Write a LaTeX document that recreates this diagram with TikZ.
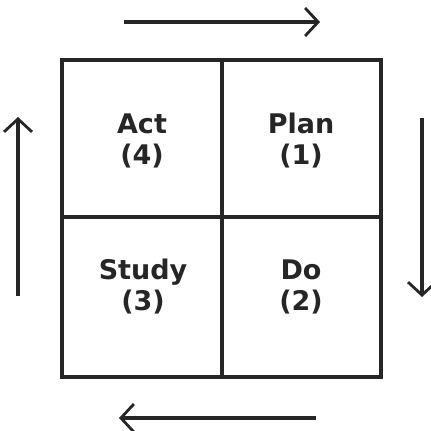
\documentclass[tikz,border=0pt]{standalone}
\usepackage{fontspec}
\setmainfont{DejaVu Sans}
\usetikzlibrary{arrows.meta}
\begin{document}
\begin{tikzpicture}[x=1pt,y=-1pt,
  grid/.style={line width=3.4pt,draw=black!85},
  cyc/.style={line width=3.2pt,draw=black!85,-{Straight Barb[length=13pt,width=28pt,line width=2.8pt]}},
  lbl/.style={font=\fontsize{27}{31}\selectfont\bfseries,align=center,text=black!85,inner sep=0pt}]
\useasboundingbox (0,0) rectangle (431,431);
\fill[white] (0,0) rectangle (431,431);
\draw[grid] (62,60) rectangle (381,377);
\draw[grid] (222,60) -- (222,377);
\draw[grid] (62,217) -- (381,217);
\node[lbl] (act) at (142,141) {Act\\(4)};
\node[lbl] (plan) at (301,141) {Plan\\(1)};
\node[lbl] (study) at (143,287) {Study\\(3)};
\node[lbl] (do) at (301,287) {Do\\(2)};
\coordinate (t1) at (124,22); \coordinate (t2) at (320,22);
\coordinate (r1) at (422,118); \coordinate (r2) at (422,297);
\coordinate (b1) at (316,418); \coordinate (b2) at (119,418);
\coordinate (l1) at (18,296); \coordinate (l2) at (18,117);
\draw[cyc] (t1) -- (t2);
\draw[cyc] (r1) -- (r2);
\draw[cyc] (b1) -- (b2);
\draw[cyc] (l1) -- (l2);
\end{tikzpicture}
\end{document}
